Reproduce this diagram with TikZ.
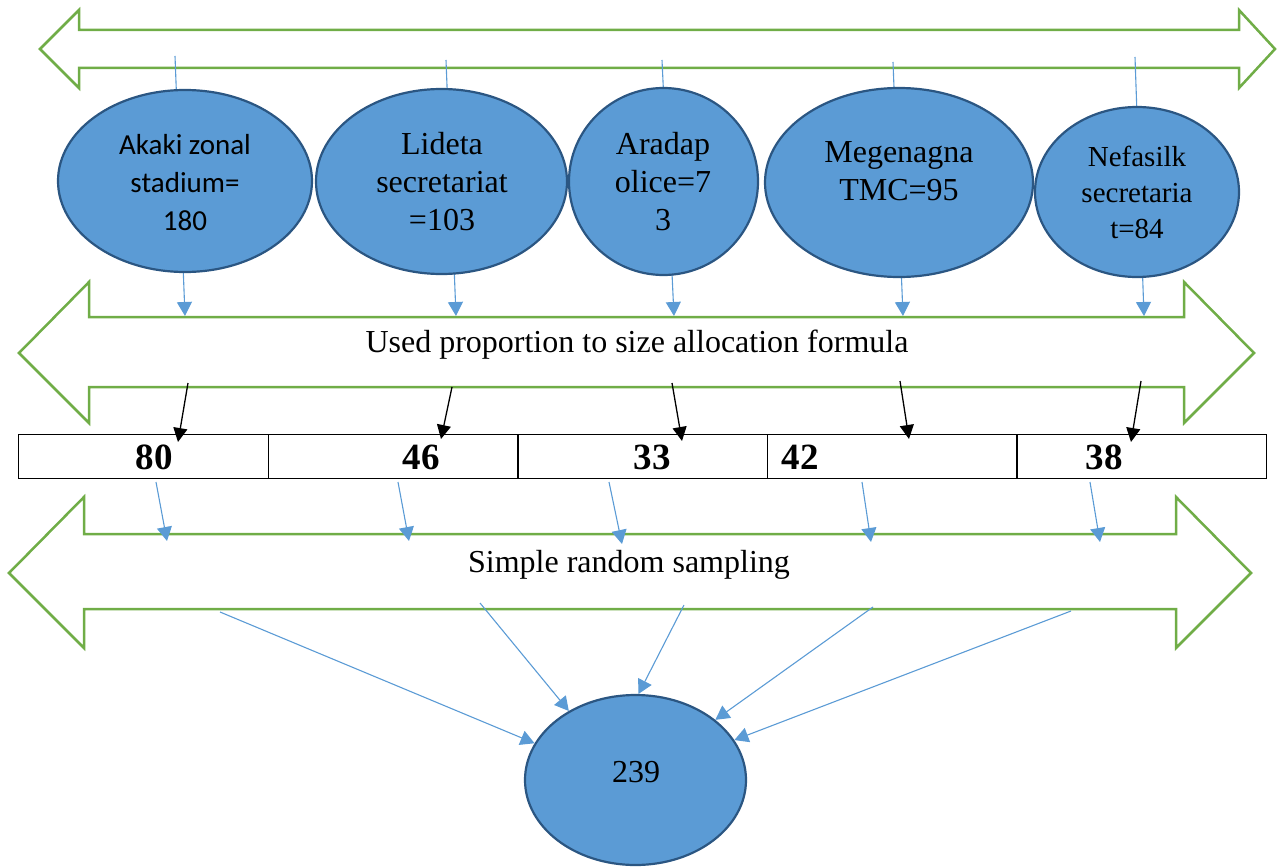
\documentclass[tikz,border=0pt]{standalone}
\usepackage{fontspec}
\setmainfont{Liberation Serif}
\newfontfamily\calib{Carlito}
\usetikzlibrary{arrows.meta,shapes.geometric}
\definecolor{gr}{HTML}{70AD47}
\definecolor{bl}{HTML}{5B9BD5}
\definecolor{bd}{HTML}{2B5682}
\begin{document}
\begin{tikzpicture}[x=1pt,y=-1pt,
  garrow/.style={draw=gr,line width=2.5pt,line join=miter},
  ell/.style={ellipse,draw=bd,fill=bl,line width=2.2pt,inner sep=0pt},
  blarrow/.style={draw=bl,line width=1.1pt,-{Triangle[length=14pt,width=15pt]}},
  bkarrow/.style={draw=black,line width=1.3pt,-{Triangle[length=14pt,width=14pt]}},
  cell/.style={rectangle,draw=black,line width=1.4pt,minimum width=249.6pt,minimum height=44pt,inner sep=0pt},
  lbl/.style={font=\fontsize{32}{38}\selectfont,align=center,inner sep=0pt},
  slbl/.style={font=\fontsize{29}{36}\selectfont,align=center,inner sep=0pt},
  clbl/.style={font=\calib\fontsize{29}{38}\selectfont,align=center,inner sep=0pt},
  num/.style={font=\fontsize{37}{40}\selectfont\bfseries,inner sep=0pt,anchor=base}
]
\useasboundingbox (0,0) rectangle (1278,867);

% green double arrows
\draw[garrow] (40,49) -- (79,10) -- (79,30) -- (1239,30) -- (1239,10) -- (1275,49)
  -- (1239,88) -- (1239,68) -- (79,68) -- (79,88) -- cycle;
\draw[garrow] (19,353) -- (89,282) -- (89,317) -- (1184,317) -- (1184,282) -- (1254,353)
  -- (1184,423) -- (1184,387) -- (89,387) -- (89,423) -- cycle;
\draw[garrow] (9,573) -- (84,497) -- (84,534) -- (1176,534) -- (1176,497) -- (1251,573)
  -- (1176,648) -- (1176,609) -- (84,609) -- (84,648) -- cycle;

\node[lbl,anchor=base] (formula) at (637,352) {Used proportion to size allocation formula};
\node[lbl,anchor=base] (srs) at (629,572) {Simple random sampling};

% connector end points
\coordinate (t1s) at (175,56);  \coordinate (t1e) at (185,316);
\coordinate (t2s) at (446,60);  \coordinate (t2e) at (456,316);
\coordinate (t3s) at (662,60);  \coordinate (t3e) at (674,316);
\coordinate (t4s) at (893,62);  \coordinate (t4e) at (903,316);
\coordinate (t5s) at (1135,57); \coordinate (t5e) at (1144,316);

\coordinate (k1s) at (188,383);  \coordinate (k1e) at (178,442);
\coordinate (k2s) at (452,387);  \coordinate (k2e) at (441,439);
\coordinate (k3s) at (672,383);  \coordinate (k3e) at (682,441);
\coordinate (k4s) at (900,381);  \coordinate (k4e) at (909,439);
\coordinate (k5s) at (1141,381); \coordinate (k5e) at (1131,442);

\coordinate (m1s) at (156,482);  \coordinate (m1e) at (167,541);
\coordinate (m2s) at (398,482);  \coordinate (m2e) at (409,541);
\coordinate (m3s) at (609,482);  \coordinate (m3e) at (622,544);
\coordinate (m4s) at (862,482);  \coordinate (m4e) at (871,542);
\coordinate (m5s) at (1090,482); \coordinate (m5e) at (1100,542);

\coordinate (b1s) at (220,612);
\coordinate (b2s) at (480,603);
\coordinate (b3s) at (684,605);
\coordinate (b4s) at (873,607);
\coordinate (b5s) at (1071,611);

% blue arrows top -> middle (behind ellipses)
\foreach \i in {1,...,5} {\draw[blarrow] (t\i s) -- (t\i e);}

% ellipses
\node[ell,minimum width=254pt,minimum height=182pt] (akaki) at (185,181) {};
\node[ell,minimum width=251pt,minimum height=185pt] (lideta) at (441.5,181.5) {};
\node[ell,minimum width=189pt,minimum height=187pt] (arada) at (663.5,181.5) {};
\node[ell,minimum width=268pt,minimum height=189pt] (mege) at (899,182.5) {};
\node[ell,minimum width=204pt,minimum height=170pt] (nefas) at (1137,192) {};
\node[ell,minimum width=221pt,minimum height=170pt] (res) at (635.5,780) {};

\node[clbl] (akakiT) at (185,183) {Akaki zonal\\stadium=\\180};
\node[lbl] (lidetaT) at (442,182) {Lideta\\secretariat\\=103};
\node[lbl] (aradaT) at (663,182) {Aradap\\olice=7\\3};
\node[lbl] (megeT) at (899,171) {Megenagna\\TMC=95};
\node[slbl] (nefasT) at (1137,192) {Nefasilk\\secretaria\\t=84};
\node[lbl] (resT) at (636,772) {239};

% table
\node[cell,anchor=north west] (c1) at (18,434) {};
\node[cell,anchor=north west] (c2) at (267.6,434) {};
\node[cell,anchor=north west] (c3) at (517.2,434) {};
\node[cell,anchor=north west] (c4) at (766.8,434) {};
\node[cell,anchor=north west] (c5) at (1016.4,434) {};
\node[num] (n1) at (154,469) {80};
\node[num] (n2) at (421,469) {46};
\node[num] (n3) at (652,469) {33};
\node[num] (n4) at (800,469) {42};
\node[num] (n5) at (1104,469) {38};

% black arrows
\foreach \i in {1,...,5} {\draw[bkarrow] (k\i s) -- (k\i e);}
% blue arrows table -> sampling
\foreach \i in {1,...,5} {\draw[blarrow] (m\i s) -- (m\i e);}
% blue arrows to result
\draw[blarrow] (b1s) -- (res.160);
\draw[blarrow] (b2s) -- (res.134);
\draw[blarrow] (b3s) -- (res.88);
\draw[blarrow] (b4s) -- (res.37);
\draw[blarrow] (b5s) -- (res.22);
\end{tikzpicture}
\end{document}
